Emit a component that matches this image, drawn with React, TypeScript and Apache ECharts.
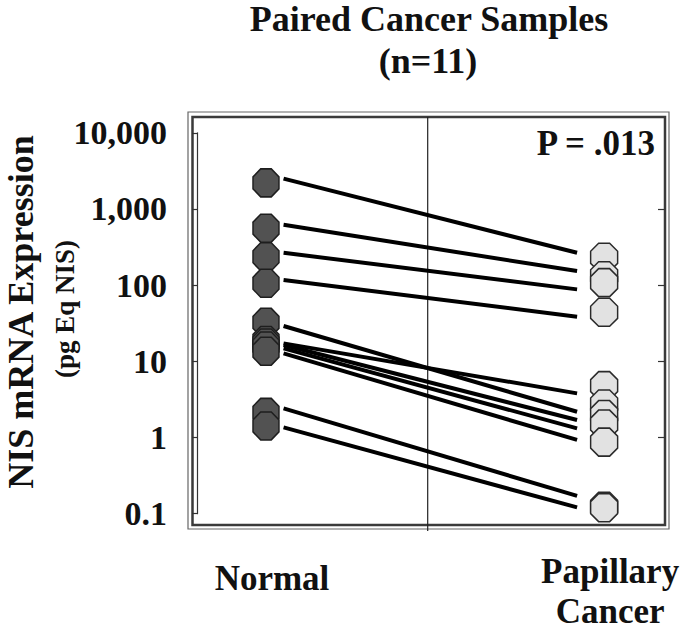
import React, { useEffect, useRef } from 'react';
import * as echarts from 'echarts';

// ---- data ----
const groups = ['Normal', 'Papillary\nCancer'];
const yTickLabels = ['0.1', '1', '10', '100', '1,000', '10,000'];
// octagon markers (pg Eq NIS)
const normalMarkers = [2200, 560, 236, 106, 32.5, 18.8, 17.4, 15.9, 13.6, 2.14, 1.42];
const cancerMarkers = [232, 133, 108, 44, 4.8, 2.75, 2.0, 1.5, 0.87, 0.125, 0.12];
// connecting lines of each pair (normal end, cancer end)
const pairNormal = [2500, 620, 266, 117, 29.1, 17.2, 16.4, 14.8, 12.7, 2.41, 1.36];
const pairCancer = [266, 153, 88, 38.5, 2.18, 3.8, 1.7, 1.32, 0.93, 0.171, 0.121];
const titleLines = ['Paired Cancer Samples', '(n=11)'];
const pValueText = 'P = .013';
const yName = 'NIS mRNA Expression';
const ySubName = '(pg Eq NIS)';

const FONT = '"Liberation Serif", "Times New Roman", serif';
const OCTAGON = 'path://M8,0 H19 L27,8 V20 L19,28 H8 L0,20 V8 Z';
const LINE_X0 = 0.052;
const LINE_X1 = 0.92;

export default function App() {
  const ref = useRef<HTMLDivElement>(null);
  useEffect(() => {
    if (!ref.current) return;
    const chart = echarts.init(ref.current, null, { renderer: 'svg' });
    const pairSeries = pairNormal.map((v, i) => ({
      type: 'line',
      data: [
        [LINE_X0, v],
        [LINE_X1, pairCancer[i]],
      ],
      symbol: 'none',
      lineStyle: { color: '#000', width: 4 },
      z: 2,
      silent: true,
    }));
    const option: any = {
      animation: false,
      backgroundColor: '#fff',
      grid: { left: 197, right: 20, top: 132.8, bottom: 118.3, containLabel: false },
      xAxis: {
        type: 'value',
        min: -0.204,
        max: 1.18,
        axisLine: { show: false, onZero: false },
        axisTick: { show: false },
        splitLine: { show: false },
        axisLabel: {
          customValues: [0, 1],
          margin: 38,
          padding: [0, 0, 0, 12],
          formatter: (v: number) => {
            if (Math.abs(v) < 1e-6) return '{n|' + groups[0] + '}';
            if (Math.abs(v - 1) < 1e-6)
              return groups[1]
                .split('\n')
                .map((s) => '{p|' + s + '}')
                .join('\n');
            return '';
          },
          rich: {
            n: { fontSize: 35, fontWeight: 'bold', fontFamily: FONT, color: '#111', lineHeight: 54 },
            p: { fontSize: 35, fontWeight: 'bold', fontFamily: FONT, color: '#111', lineHeight: 40 },
          },
        },
      },
      yAxis: [
        {
          type: 'log',
          logBase: 10,
          min: 0.1,
          max: 10000,
          position: 'left',
          axisLine: { show: true, onZero: false, lineStyle: { color: '#333', width: 1.2 } },
          axisTick: { show: true, inside: false, length: 5, lineStyle: { color: '#333', width: 1.2 } },
          splitLine: { show: false },
          axisLabel: {
            margin: 30,
            fontSize: 34,
            fontWeight: 'bold',
            fontFamily: FONT,
            color: '#111',
            formatter: (v: number) => {
              const idx = Math.round(Math.log10(v)) + 1;
              return yTickLabels[idx] ?? '';
            },
          },
        },
        {
          type: 'log',
          logBase: 10,
          min: 0.1,
          max: 10000,
          position: 'right',
          axisLine: { show: false, onZero: false },
          axisTick: {
            show: true,
            inside: true,
            length: 7,
            customValues: [1, 10, 100, 1000],
            lineStyle: { color: '#333', width: 1.2 },
          },
          axisLabel: { show: false },
          splitLine: { show: false },
        },
      ],
      graphic: [
        {
          type: 'rect',
          shape: { x: 188, y: 112, width: 481, height: 417 },
          style: { fill: 'none', stroke: '#666', lineWidth: 1.2 },
          silent: true,
        },
        {
          type: 'rect',
          shape: { x: 192.5, y: 117, width: 472.5, height: 408 },
          style: { fill: 'none', stroke: '#3a3a3a', lineWidth: 2.5 },
          silent: true,
        },
        {
          type: 'line',
          shape: { x1: 427.7, y1: 117, x2: 427.7, y2: 531 },
          style: { stroke: '#222', lineWidth: 1.2 },
          silent: true,
        },
        {
          type: 'text',
          x: 429,
          y: 19,
          style: {
            text: titleLines[0],
            fontSize: 36,
            fontWeight: 'bold',
            fontFamily: FONT,
            fill: '#111',
            align: 'center',
            verticalAlign: 'middle',
          },
        },
        {
          type: 'text',
          x: 428,
          y: 61,
          style: {
            text: titleLines[1],
            fontSize: 36,
            fontWeight: 'bold',
            fontFamily: FONT,
            fill: '#111',
            align: 'center',
            verticalAlign: 'middle',
          },
        },
        {
          type: 'text',
          x: 655,
          y: 143.5,
          z: 10,
          style: {
            text: pValueText,
            fontSize: 35,
            fontWeight: 'bold',
            fontFamily: FONT,
            fill: '#111',
            align: 'right',
            verticalAlign: 'middle',
          },
        },
        {
          type: 'text',
          x: 21,
          y: 312,
          rotation: Math.PI / 2,
          style: {
            text: yName,
            fontSize: 36,
            fontWeight: 'bold',
            fontFamily: FONT,
            fill: '#111',
            align: 'center',
            verticalAlign: 'middle',
          },
        },
        {
          type: 'text',
          x: 65,
          y: 309,
          rotation: Math.PI / 2,
          style: {
            text: ySubName,
            fontSize: 27,
            fontWeight: 'bold',
            fontFamily: FONT,
            fill: '#111',
            align: 'center',
            verticalAlign: 'middle',
          },
        },
      ],
      series: [
        ...pairSeries,
        {
          type: 'scatter',
          data: normalMarkers.map((v) => [0, v]),
          symbol: OCTAGON,
          symbolSize: [26, 28],
          symbolKeepAspect: false,
          itemStyle: { color: '#525252', borderColor: '#1e1e1e', borderWidth: 1.5, opacity: 1 },
          z: 5,
          silent: true,
        },
        {
          type: 'scatter',
          data: cancerMarkers.map((v) => [1, v]),
          symbol: OCTAGON,
          symbolSize: [27, 28],
          symbolKeepAspect: false,
          itemStyle: { color: '#e2e2e2', borderColor: '#2a2a2a', borderWidth: 1.5, opacity: 1 },
          z: 5,
          silent: true,
        },
      ],
    };
    chart.setOption(option);
    return () => chart.dispose();
  }, []);
  return (
    <div
      ref={ref}
      style={{ position: 'fixed', left: 0, top: 0, width: 685, height: 632, background: '#fff' }}
    />
  );
}
